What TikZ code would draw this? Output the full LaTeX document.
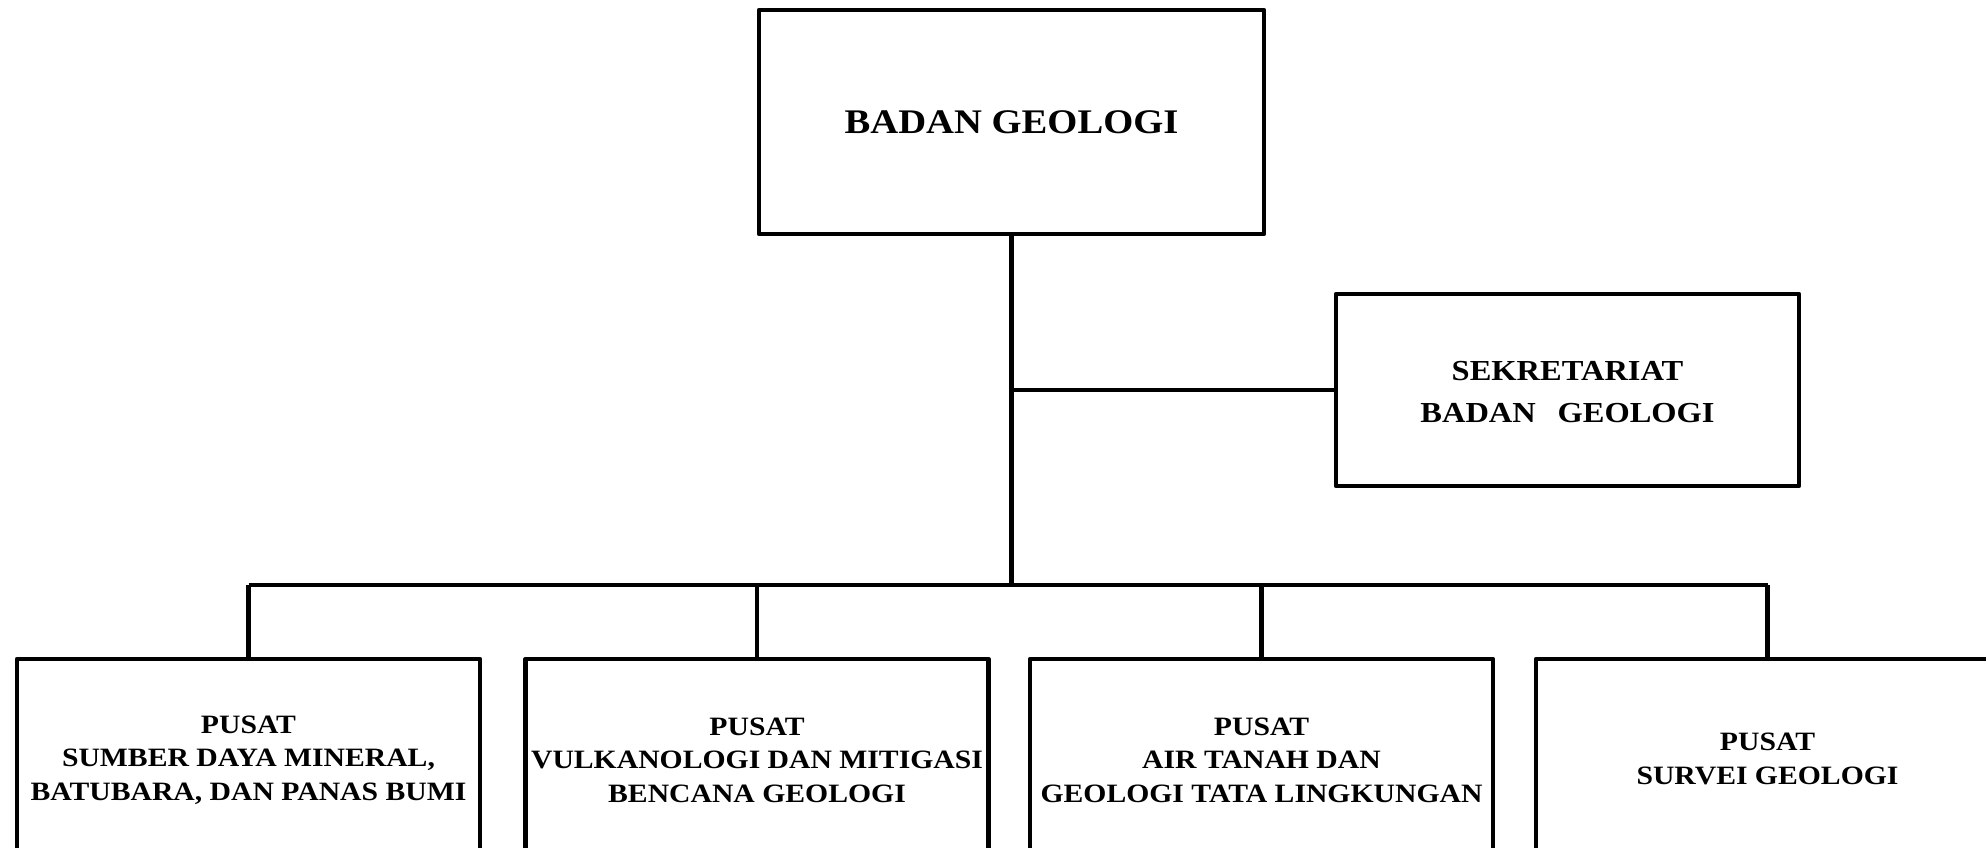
\documentclass[tikz,border=0pt]{standalone}
\usepackage{fontspec}
\setmainfont[FakeStretch=1.12]{Liberation Serif}
\begin{document}
\begin{tikzpicture}[x=1pt,y=1pt,
  unit/.style={draw=black, line width=4.4pt, line join=round, rectangle, align=center, inner sep=0pt,
    font=\bfseries},
  big/.style={unit, font=\fontsize{34.5}{40}\selectfont\bfseries},
  small/.style={unit, minimum width=463pt, minimum height=194pt},
  txt/.style={align=center, inner sep=0pt, font=\fontsize{26.5}{33.5}\selectfont\bfseries},
  midtxt/.style={align=center, inner sep=0pt, font=\fontsize{29}{42}\selectfont\bfseries},
  link/.style={draw=black, line width=4.4pt}]
\useasboundingbox (0,0) rectangle (1986,-847);
\clip (0,0) rectangle (1986,-847);
\fill[white] (0,0) rectangle (1986,-847);
\node[big, minimum width=505pt, minimum height=224pt] (top) at (1011.5,-122) {BADAN GEOLOGI};
\node[unit, minimum width=463pt, minimum height=192pt] (sek) at (1567.5,-390) {};
\node[midtxt] (ts) at ([yshift=-2pt]sek.center) {SEKRETARIAT\\BADAN\hspace{0.75em}GEOLOGI};
\node[small] (b1) at (248.5,-756) {};
\node[small] (b2) at (757,-756) {};
\node[small] (b3) at (1261.5,-756) {};
\node[small] (b4) at (1767.5,-756) {};
\node[txt] (t1) at ([yshift=-4pt]b1.center) {PUSAT\\SUMBER DAYA MINERAL,\\BATUBARA, DAN PANAS BUMI};
\node[txt] (t2) at ([yshift=-4pt]b2.center) {PUSAT\\VULKANOLOGI DAN MITIGASI\\BENCANA GEOLOGI};
\node[txt] (t3) at ([yshift=-4pt]b3.center) {PUSAT\\AIR TANAH DAN\\GEOLOGI TATA LINGKUNGAN};
\node[txt] (t4) at ([yshift=-3pt]b4.center) {PUSAT\\SURVEI GEOLOGI};
\coordinate (bus) at (0,-585);
\draw[link] (top.south) -- (top.south |- bus);
\draw[link] (top.south |- sek.west) -- (sek.west);
\draw[link] (b1.north |- bus) -- (b4.north |- bus);
\draw[link] (b1.north |- bus) -- (b1.north);
\draw[link] (b2.north |- bus) -- (b2.north);
\draw[link] (b3.north |- bus) -- (b3.north);
\draw[link] (b4.north |- bus) -- (b4.north);
\end{tikzpicture}
\end{document}
